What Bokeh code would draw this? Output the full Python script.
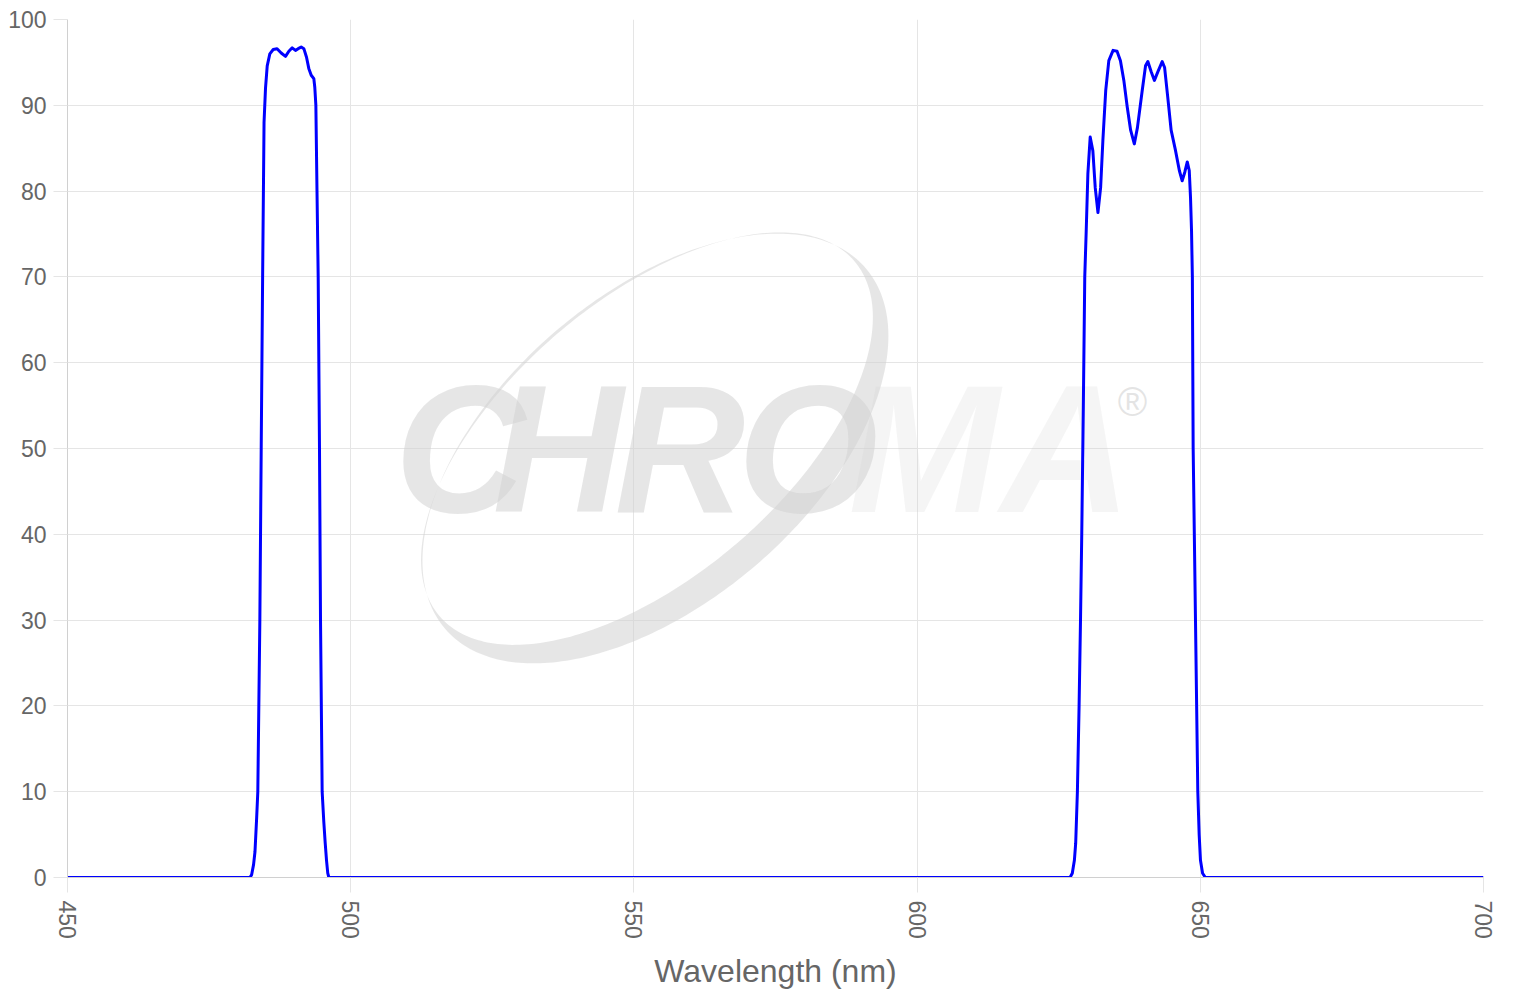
import numpy as np
from bokeh.plotting import figure
from bokeh.models import Range1d, FixedTicker
from bokeh.core.properties import value
from bokeh.embed import file_html
from bokeh.resources import INLINE

# ---------------- data ----------------
wavelength = [
    450.0, 482.2, 482.5, 482.85, 483.1, 483.4, 483.6, 483.96, 484.2, 484.45,
    484.7, 484.96, 485.26, 485.72, 486.32, 487.0, 487.73, 488.49, 489.08, 489.67,
    490.25, 490.73, 491.26, 491.73, 492.2, 492.6, 493.03, 493.49, 493.66, 493.85,
    494.05, 494.26, 494.49, 494.67, 494.96, 495.25, 495.5, 495.73, 495.95, 496.15,
    627.0, 627.4, 627.77, 628.0, 628.3, 628.6, 628.85, 629.07, 629.35, 629.6,
    629.86, 630.15, 630.56, 631.03, 631.45, 631.93, 632.4, 632.8, 633.3, 633.85,
    634.6, 635.3, 635.9, 636.5, 637.1, 637.7, 638.35, 638.9, 639.74, 640.33,
    640.74, 641.33, 641.9, 642.5, 643.27, 643.7, 644.26, 644.85, 645.6, 646.3,
    646.8, 647.26, 647.7, 648.05, 648.27, 648.45, 648.6, 648.74, 649.15, 649.56,
    649.8, 650.03, 650.4, 650.9, 700.0,
]
transmission = [
    0.0, 0.0, 0.3, 1.5, 3.0, 7.0, 10.0, 30.0, 50.0, 70.0,
    88.0, 92.0, 94.6, 96.0, 96.5, 96.6, 96.1, 95.7, 96.3, 96.7,
    96.4, 96.6, 96.8, 96.6, 95.6, 94.3, 93.5, 93.1, 92.1, 90.0,
    80.0, 70.0, 50.0, 30.0, 10.0, 6.5, 4.0, 2.0, 0.5, 0.0,
    0.0, 0.5, 2.0, 4.0, 10.0, 20.0, 30.0, 40.0, 55.0, 70.0,
    75.4, 82.0, 86.3, 84.7, 80.4, 77.5, 80.4, 85.9, 91.7, 95.2,
    96.4, 96.3, 95.2, 92.9, 89.8, 87.1, 85.5, 87.4, 91.7, 94.6,
    95.1, 93.9, 92.9, 93.9, 95.1, 94.4, 90.9, 87.1, 84.8, 82.4,
    81.2, 82.2, 83.4, 82.4, 79.3, 75.4, 70.0, 50.0, 30.0, 10.0,
    5.0, 2.0, 0.5, 0.0, 0.0,
]
x_ticks = [450, 500, 550, 600, 650, 700]
y_ticks = [0, 10, 20, 30, 40, 50, 60, 70, 80, 90, 100]

# ---------------- figure ----------------
FW, FH = 1416, 858
p = figure(frame_width=FW, frame_height=FH, output_backend="svg",
           toolbar_location=None, x_range=Range1d(450, 700), y_range=Range1d(0, 100),
           min_border_left=67, min_border_right=30, min_border_top=19,
           min_border_bottom=115, background_fill_color="white",
           border_fill_color="white")
p.outline_line_color = None

GRID = "#e5e5e5"
for ax in (p.xaxis[0], p.yaxis[0]):
    ax.axis_line_color = "#d0d0d0"
    ax.axis_line_width = 1
    ax.major_tick_line_color = GRID
    ax.major_tick_in = 0
    ax.minor_tick_line_color = None
    ax.major_label_text_font = "Liberation Sans"
    ax.major_label_text_font_size = "23px"
    ax.major_label_text_color = "#666666"

p.xaxis.ticker = FixedTicker(ticks=x_ticks)
p.yaxis.ticker = FixedTicker(ticks=y_ticks)
p.xaxis.major_tick_out = 15
p.yaxis.major_tick_out = 14
p.xaxis.major_label_orientation = "vertical"
p.xaxis.major_label_standoff = 8
p.yaxis.major_label_standoff = 7
p.xaxis.axis_label = "Wavelength (nm)"
p.xaxis.axis_label_text_font = "Liberation Sans"
p.xaxis.axis_label_text_font_size = "32px"
p.xaxis.axis_label_text_font_style = "normal"
p.xaxis.axis_label_text_color = "#666666"
p.xaxis.axis_label_standoff = 11

p.xgrid.grid_line_color = GRID
p.ygrid.grid_line_color = GRID

# ---------------- watermark (decorative) ----------------
PXX, PXY = FW / 250.0, FH / 100.0
cx, cy = 553.8, 50.0
th = np.deg2rad(40.6)

def ellipse_ring(cxd, cyd, a, b, n=300):
    t = np.linspace(0, 2 * np.pi, n, endpoint=False)
    X = a * np.cos(t) * np.cos(th) - b * np.sin(t) * np.sin(th)
    Y = a * np.cos(t) * np.sin(th) + b * np.sin(t) * np.cos(th)
    return list(cxd + X / PXX), list(cyd + Y / PXY)

ox, oy = ellipse_ring(cx, cy, 277, 154)
shift = 13
icx = cx + (-np.sin(th) * shift) / PXX
icy = cy + (np.cos(th) * shift) / PXY
ix, iy = ellipse_ring(icx, icy, 273, 138)
ix, iy = ix[::-1], iy[::-1]
p.multi_polygons(xs=[[[ox, ix]]], ys=[[[oy, iy]]], fill_color="#d2d2d2",
                 fill_alpha=0.55, line_color=None)

def px_to_x(px):
    return 450 + (px - 67) / PXX

logo_letters = ["C", "H", "R", "O", "M", "A"]
logo_px = [394, 492, 614, 737, 848, 1000]
logo_alpha = [0.55, 0.55, 0.55, 0.55, 0.22, 0.22]
p.text(x=[px_to_x(v) for v in logo_px], y=[50.0] * 6, text=logo_letters,
       text_font=value("Liberation Sans"), text_font_size="181px",
       text_font_style="bold italic", text_color="#d2d2d2",
       text_alpha=logo_alpha, text_baseline="middle", text_align="left")
p.text(x=[px_to_x(1132)], y=[55.4], text=["®"], text_font=value("Liberation Sans"),
       text_font_size="40px", text_color="#d2d2d2", text_alpha=0.6,
       text_baseline="middle", text_align="center")

# ---------------- data line ----------------
p.line(wavelength, transmission, line_color="#0000ff", line_width=3,
       line_join="round")

open("out.html", "w").write(file_html(p, INLINE))
